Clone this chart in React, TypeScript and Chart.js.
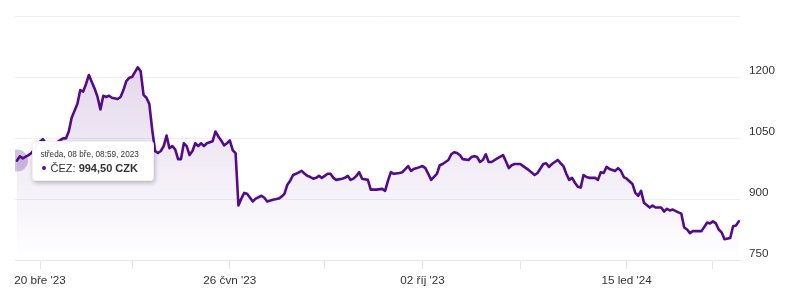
import React, { useEffect, useRef } from 'react';
import { Chart, registerables } from 'chart.js';

Chart.register(...registerables);

const SERIES_NAME = 'ČEZ';
const CURRENCY = 'CZK';
const HOVER_TITLE = 'středa, 08 bře, 08:59, 2023';
const HOVER_INDEX = 0;

// trading-day index of each sampled close (0 = 08 bře 2023)
const dayIdx = [
  0, 1, 2, 4, 5, 6, 7, 9, 10, 11,
  13, 14, 16, 17, 18, 19, 21, 22, 23, 24,
  25, 26, 27, 28, 29, 30, 31, 32, 33, 35,
  36, 37, 38, 39, 40, 41, 42, 43, 44, 45,
  46, 47, 48, 49, 50, 51, 52, 53, 54, 55,
  56, 57, 58, 59, 60, 61, 62, 63, 64, 65,
  66, 68, 69, 70, 71, 72, 73, 74, 75, 76,
  77, 78, 79, 80, 82, 83, 85, 86, 87, 89,
  91, 92, 93, 94, 95, 96, 97, 99, 100, 101,
  102, 103, 104, 105, 106, 107, 108, 109, 110, 111,
  113, 114, 115, 116, 117, 118, 119, 120, 122, 123,
  125, 127, 128, 129, 130, 131, 133, 134, 136, 137,
  138, 139, 141, 142, 143, 144, 146, 147, 148, 150,
  151, 152, 153, 154, 155, 157, 158, 159, 160, 161,
  162, 163, 164, 165, 167, 169, 170, 171, 172, 173,
  175, 176, 177, 178, 180, 181, 183, 184, 185, 186,
  188, 189, 190, 191, 192, 193, 194, 195, 196, 197,
  198, 199, 201, 202, 203, 204, 205, 206, 208, 209,
  210, 211, 212, 214, 215, 216, 217, 218, 220, 221,
  222, 224, 225, 226, 227, 228, 230, 231, 232, 233,
  234, 235, 237, 238, 240, 241, 242, 243, 244, 245,
  246, 248, 249, 250, 251,
];

// closing prices (CZK)
const prices = [
  994.5, 1005, 1000, 1008, 1013, 1022, 1035, 1047, 1037, 1027,
  1032, 1040, 1049, 1049, 1066, 1100, 1134, 1168, 1164, 1183,
  1205, 1188, 1171, 1151, 1120, 1154, 1151, 1154, 1149, 1146,
  1151, 1168, 1190, 1198, 1200, 1212, 1224, 1214, 1156, 1149,
  1134, 1071, 1018, 1013, 1018, 1030, 1056, 1025, 1030, 1022,
  998, 998, 1037, 1030, 1008, 1018, 1037, 1030, 1037, 1030,
  1037, 1042, 1066, 1054, 1044, 1032, 1037, 1044, 1020, 1013,
  884, 901, 915, 913, 894, 901, 908, 903, 894, 898,
  901, 906, 913, 935, 945, 959, 962, 969, 962, 957,
  954, 950, 952, 957, 952, 957, 962, 962, 952, 947,
  950, 952, 957, 947, 950, 957, 966, 950, 947, 923,
  923, 925, 920, 945, 966, 962, 964, 966, 981, 969,
  974, 976, 981, 976, 962, 947, 962, 983, 986, 996,
  1010, 1015, 1013, 1008, 998, 996, 1003, 1005, 1003, 991,
  996, 1010, 991, 991, 1000, 1008, 993, 976, 983, 986,
  986, 981, 976, 971, 959, 964, 986, 988, 979, 986,
  996, 988, 981, 962, 947, 952, 940, 930, 928, 959,
  954, 952, 952, 947, 966, 964, 979, 974, 969, 976,
  969, 954, 950, 937, 915, 908, 920, 891, 879, 884,
  879, 879, 869, 876, 872, 874, 867, 864, 830, 825,
  816, 821, 821, 821, 842, 840, 845, 840, 825, 818,
  801, 804, 833, 835, 845,
];

const tickDays = [8, 40, 74, 107, 141, 175, 212, 242];
const tickLabels = ["20 bře '23", '', "26 čvn '23", '', "02 říj '23", '', "15 led '24", ''];
const yTicks = [750, 900, 1050, 1200, 1350];
const yLabels = ['750', '900', '1050', '1200', ''];

const LINE = '#540b8a';
const HALO = 'rgba(84, 11, 138, 0.25)';
const FONT = "'Liberation Sans', Arial, Helvetica, sans-serif";

const fmt = (v: number) => v.toFixed(2).replace('.', ',');

export default function App() {
  const canvasRef = useRef<HTMLCanvasElement>(null);
  const tipRef = useRef<HTMLDivElement>(null);

  useEffect(() => {
    const canvas = canvasRef.current!;
    const chart = new Chart(canvas, {
      type: 'line',
      data: {
        datasets: [
          {
            label: SERIES_NAME,
            data: dayIdx.map((d, i) => ({ x: d, y: prices[i] })),
            borderColor: LINE,
            borderWidth: 2.6,
            borderJoinStyle: 'round',
            borderCapStyle: 'round',
            tension: 0,
            fill: 'start',
            backgroundColor: (ctx: any) => {
              const area = ctx.chart.chartArea;
              if (!area) return 'rgba(84,11,138,0.1)';
              const g = ctx.chart.ctx.createLinearGradient(0, area.top, 0, area.bottom);
              g.addColorStop(0, 'rgba(84, 11, 138, 0.2)');
              g.addColorStop(1, 'rgba(84, 11, 138, 0)');
              return g;
            },
            pointRadius: 0,
            pointHoverRadius: 11,
            pointHoverBackgroundColor: HALO,
            pointHoverBorderWidth: 0,
          } as any,
        ],
      },
      options: {
        responsive: false,
        animation: false,
        events: [],
        layout: { padding: { left: 15, top: 13, right: 0, bottom: 0 } },
        plugins: {
          legend: { display: false },
          tooltip: {
            enabled: false,
            external: ({ tooltip }: any) => {
              const el = tipRef.current;
              if (!el) return;
              if (!tooltip || tooltip.opacity === 0 || !tooltip.dataPoints || !tooltip.dataPoints.length) {
                el.style.display = 'none';
                return;
              }
              const item = tooltip.dataPoints[0];
              el.innerHTML =
                `<div style="font-size:8.2px;line-height:14px;color:#333;white-space:nowrap">${HOVER_TITLE}</div>` +
                `<div style="font-size:11px;line-height:13px;color:#333;white-space:nowrap">` +
                `<span style="display:inline-block;width:4px;height:4px;border-radius:50%;background:${LINE};margin:0 5px 2px 1px;vertical-align:middle"></span>` +
                `${SERIES_NAME}: <b>${fmt(item.parsed.y)} ${CURRENCY}</b></div>`;
              el.style.display = 'block';
              el.style.left = tooltip.caretX + 14.5 + 'px';
              el.style.top = tooltip.caretY - 20 + 'px';
            },
          },
        },
        scales: {
          x: {
            type: 'linear',
            min: -0.7,
            max: 251.4,
            afterBuildTicks: (s: any) => {
              s.ticks = tickDays.map((v) => ({ value: v }));
            },
            afterFit: (s: any) => {
              s.height = 38;
            },
            ticks: {
              autoSkip: false,
              maxRotation: 0,
              minRotation: 0,
              padding: 5,
              color: '#333',
              font: { family: FONT, size: 11.7 },
              callback: (v: any) => {
                const k = tickDays.indexOf(Number(v));
                return k >= 0 ? tickLabels[k] : '';
              },
            },
            grid: { drawOnChartArea: false, drawTicks: true, tickLength: 9, color: '#e4e4ea', lineWidth: 1 },
            border: { display: true, color: '#e6e6f0' },
          },
          y: {
            position: 'right',
            min: 750,
            max: 1350,
            afterBuildTicks: (s: any) => {
              s.ticks = yTicks.map((v) => ({ value: v }));
            },
            afterFit: (s: any) => {
              s.width = 56;
            },
            ticks: {
              padding: 9,
              labelOffset: -6,
              color: '#333',
              font: { family: FONT, size: 11.7 },
              callback: (v: any) => {
                const k = yTicks.indexOf(Number(v));
                return k >= 0 ? yLabels[k] : '';
              },
            },
            grid: { color: '#eeeef3', drawTicks: false, lineWidth: 1 },
            border: { display: false },
          },
        },
      } as any,
    });

    const active = [{ datasetIndex: 0, index: HOVER_INDEX }];
    chart.setActiveElements(active);
    const pt: any = chart.getDatasetMeta(0).data[HOVER_INDEX];
    chart.tooltip?.setActiveElements(active, { x: pt.x, y: pt.y });
    chart.update();

    return () => {
      chart.destroy();
    };
  }, []);

  return (
    <div style={{ position: 'absolute', left: 0, top: 0, width: 796, height: 298, background: '#fff' }}>
      <canvas ref={canvasRef} width={796} height={298} style={{ display: 'block' }} />
      <div
        ref={tipRef}
        style={{
          position: 'absolute',
          display: 'none',
          boxSizing: 'border-box',
          width: 122,
          height: 40,
          padding: '6px 8px 6px 8px',
          background: 'rgba(255,255,255,0.97)',
          border: '1px solid rgba(0,0,0,0.06)',
          borderRadius: 4,
          boxShadow: '1px 2px 4px rgba(0,0,0,0.25)',
          fontFamily: FONT,
          pointerEvents: 'none',
        }}
      />
    </div>
  );
}
